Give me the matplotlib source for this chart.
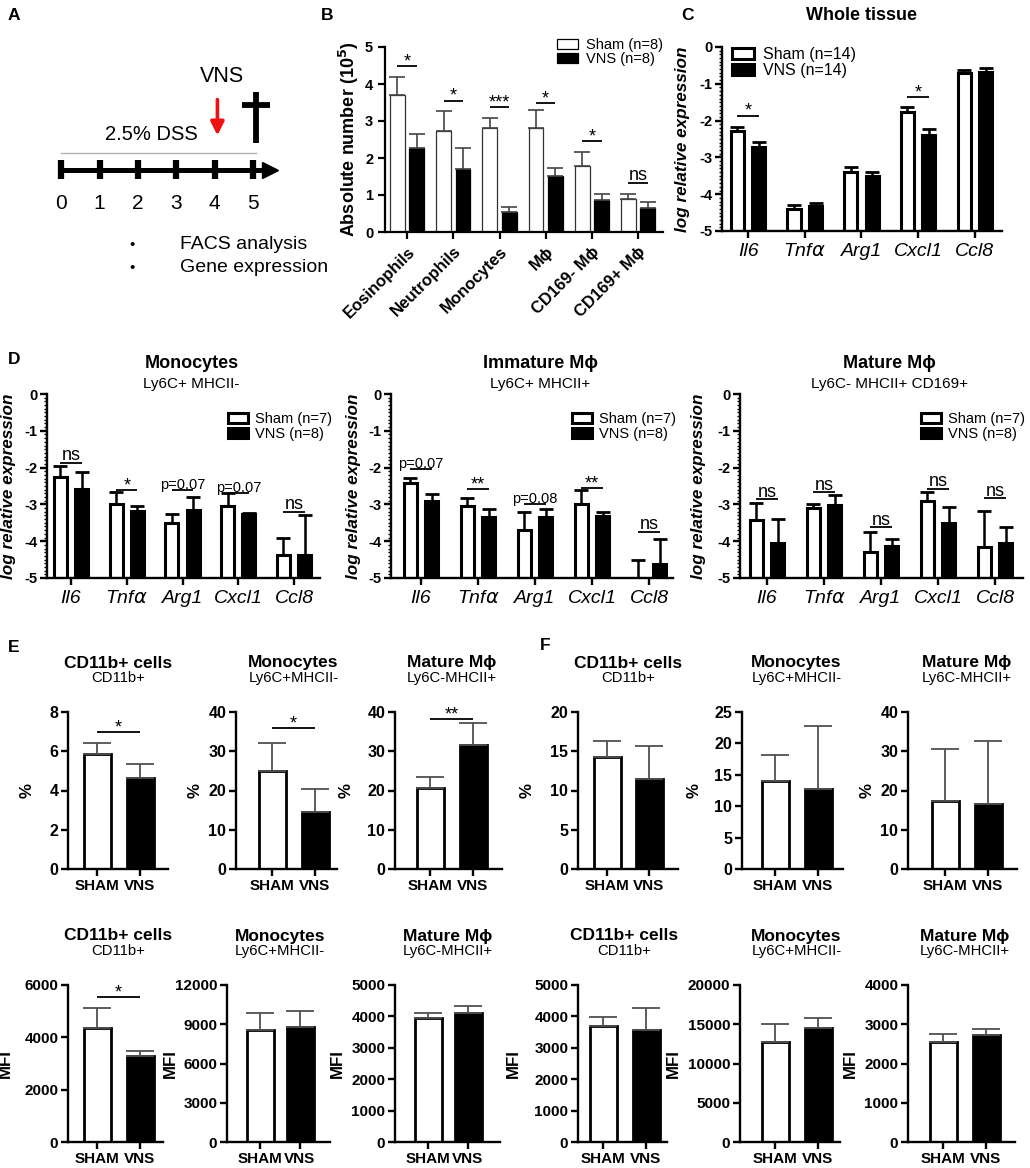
import matplotlib
matplotlib.use("Agg")
import matplotlib.pyplot as plt
import numpy as np
from matplotlib.patches import Patch
from matplotlib.ticker import MultipleLocator

plt.rcParams['font.family'] = ['Liberation Sans', 'DejaVu Sans']
plt.rcParams['mathtext.fontset'] = 'dejavusans'
plt.rcParams['axes.unicode_minus'] = False

W, H = 1030, 1168

# ---- data ----
# A: protocol timeline
days = [0, 1, 2, 3, 4, 5]
vns_day = 4
sac_day = 5
readouts = ['FACS analysis', 'Gene expression']

# B: absolute numbers (10^5)
b_cells = ['Eosinophils', 'Neutrophils', 'Monocytes', 'Mϕ', 'CD169- Mϕ', 'CD169+ Mϕ']
b_sham = [3.70, 2.73, 2.82, 2.80, 1.78, 0.88]
b_sham_top = [4.18, 3.28, 3.07, 3.30, 2.16, 1.03]
b_vns = [2.26, 1.70, 0.53, 1.52, 0.86, 0.66]
b_vns_top = [2.66, 2.26, 0.68, 1.73, 1.03, 0.80]
b_sig = [(0, 4.49, '*'), (1, 3.55, '*'), (2, 3.38, '***'), (3, 3.48, '*'), (4, 2.46, '*'), (5, 1.33, 'ns')]

genes = ['Il6', 'Tnf$\\alpha$', 'Arg1', 'Cxcl1', 'Ccl8']

# C: whole tissue
c_sham = [-2.28, -4.40, -3.39, -1.77, -0.71]
c_sham_top = [-2.17, -4.30, -3.27, -1.63, -0.63]
c_vns = [-2.71, -4.33, -3.50, -2.39, -0.67]
c_vns_top = [-2.57, -4.25, -3.39, -2.23, -0.58]
c_sig = [(0, -1.87, '*'), (3, -1.36, '*')]

# D: sorted populations
d1_sham = [-2.26, -2.99, -3.50, -3.04, -4.38]
d1_sham_top = [-1.96, -2.67, -3.26, -2.69, -3.91]
d1_vns = [-2.58, -3.18, -3.15, -3.26, -4.38]
d1_vns_top = [-2.12, -3.04, -2.80, -3.24, -3.29]
d1_sig = [(0, -1.87, 'ns'), (1, -2.61, '*'), (2, -2.61, 'p=0.07'), (3, -2.69, 'p=0.07'), (4, -3.20, 'ns')]

d2_sham = [-2.42, -3.04, -3.70, -2.99, -5.00]
d2_sham_top = [-2.28, -2.82, -3.22, -2.61, -4.51]
d2_vns = [-2.91, -3.33, -3.33, -3.32, -4.62]
d2_vns_top = [-2.72, -3.13, -3.13, -3.22, -3.94]
d2_sig = [(0, -2.04, 'p=0.07'), (1, -2.58, '**'), (2, -2.99, 'p=0.08'), (3, -2.55, '**'), (4, -3.75, 'ns')]

d3_sham = [-3.42, -3.10, -4.28, -2.91, -4.16]
d3_sham_top = [-2.97, -2.99, -3.75, -2.67, -3.18]
d3_vns = [-4.05, -3.02, -4.13, -3.50, -4.05]
d3_vns_top = [-3.40, -2.75, -3.94, -3.07, -3.62]
d3_sig = [(0, -2.86, 'ns'), (1, -2.67, 'ns'), (2, -3.62, 'ns'), (3, -2.58, 'ns'), (4, -2.83, 'ns')]

d_titles = ['Monocytes', 'Immature Mϕ', 'Mature Mϕ']
d_subtitles = ['Ly6C+ MHCII-', 'Ly6C+ MHCII+', 'Ly6C- MHCII+ CD169+']

# E / F: percentages and MFI
ef_titles = ['CD11b+ cells', 'Monocytes', 'Mature Mϕ']
ef_subtitles = ['CD11b+', 'Ly6C+MHCII-', 'Ly6C-MHCII+']
ef_groups = ['SHAM', 'VNS']

e_pct_sham = [5.86, 25.0, 20.6]
e_pct_sham_top = [6.42, 32.0, 23.4]
e_pct_vns = [4.64, 14.6, 31.6]
e_pct_vns_top = [5.35, 20.4, 37.2]
e_pct_sig = [(6.98, '*'), (35.9, '*'), (38.2, '**')]

f_pct_sham = [14.3, 14.0, 17.3]
f_pct_sham_top = [16.3, 18.2, 30.6]
f_pct_vns = [11.5, 12.7, 16.6]
f_pct_vns_top = [15.7, 22.8, 32.6]

e_mfi_sham = [4350, 8560, 3960]
e_mfi_sham_top = [5130, 9840, 4100]
e_mfi_vns = [3270, 8790, 4120]
e_mfi_vns_top = [3490, 10010, 4330]
e_mfi_sig = [(5540, '*'), None, None]

f_mfi_sham = [3700, 12780, 2540]
f_mfi_sham_top = [3970, 15030, 2750]
f_mfi_vns = [3570, 14480, 2720]
f_mfi_vns_top = [4280, 15750, 2880]

e_pct_ylim = [(8, 2), (40, 10), (40, 10)]
f_pct_ylim = [(20, 5), (25, 5), (40, 10)]
e_mfi_ylim = [(6000, 2000), (12000, 3000), (5000, 1000)]
f_mfi_ylim = [(5000, 1000), (20000, 5000), (4000, 1000)]


def px_axes(fig, left, top, right, bottom):
    return fig.add_axes([left / W, 1 - bottom / H, (right - left) / W, (bottom - top) / H])


def style_axes(ax, lw=1.6):
    for s in ['top', 'right']:
        ax.spines[s].set_visible(False)
    for s in ['left', 'bottom']:
        ax.spines[s].set_linewidth(lw)
    ax.tick_params(axis='both', which='major', length=5, width=lw, direction='out')


def sig_size(txt):
    if txt == 'ns':
        return 13
    if txt.startswith('p'):
        return 10.5
    return 13


def sig_mark(ax, x0, x1, y, txt, lw=1.3):
    ax.plot([x0, x1], [y, y], color='black', lw=lw, solid_capstyle='butt')
    if txt.startswith('p'):
        shift = -1.5
    elif txt == 'ns':
        shift = -1
    else:
        shift = -3
    ax.annotate(txt, ((x0 + x1) / 2, y), xytext=(0, shift), textcoords='offset points',
                ha='center', va='bottom', fontsize=sig_size(txt))


def gene_panel(ax, sham, sham_top, vns, vns_top, sig, off=0.19, w=0.23):
    base = -5
    x = np.arange(len(genes))
    sham, sham_top, vns, vns_top = map(np.asarray, (sham, sham_top, vns, vns_top))
    ax.bar(x - off, sham - base, width=w, bottom=base, color='white', edgecolor='black', lw=2.2, zorder=2)
    ax.bar(x + off, vns - base, width=w, bottom=base, color='black', edgecolor='black', lw=2.2, zorder=2)
    for xs, v, t in [(x - off, sham, sham_top), (x + off, vns, vns_top)]:
        ax.errorbar(xs, v, yerr=[np.zeros_like(v), t - v], fmt='none', ecolor='black',
                    elinewidth=1.8, capsize=5, capthick=2.0, zorder=3)
    for i, y, txt in sig:
        sig_mark(ax, i - off, i + off, y, txt)
    ax.set_ylim(-5, 0)
    ax.set_yticks([0, -1, -2, -3, -4, -5])
    ax.set_yticklabels(['0', '-1', '-2', '-3', '-4', '-5'], fontweight='bold', fontsize=10.5)
    ax.yaxis.set_minor_locator(MultipleLocator(0.1))
    ax.tick_params(axis='y', which='minor', length=2.5, width=1)
    ax.tick_params(axis='y', which='major', pad=2)
    ax.set_xticks(x)
    ax.set_xticklabels(genes, fontstyle='italic', fontsize=14)
    style_axes(ax, lw=1.7)
    ax.set_ylabel('log relative expression', fontweight='bold', fontstyle='italic', fontsize=12.3)


def legend_groups(ax, anchor, labels, fs=11, edge_lw=2.2, pad=0.55):
    handles = [Patch(facecolor='white', edgecolor='black', lw=edge_lw),
               Patch(facecolor='black', edgecolor='black', lw=edge_lw)]
    ax.legend(handles, labels, loc='upper left', bbox_to_anchor=anchor, frameon=False,
              fontsize=fs, handlelength=1.4, handleheight=0.7, labelspacing=0.05,
              handletextpad=pad, borderaxespad=0, borderpad=0)


def small_panel(ax, px_ticks, px_left, px_right, sham, sham_top, vns, vns_top, ylim, ylabel,
                label_px, sig=None, tick_fs=11.5):
    s = px_ticks[1] - px_ticks[0]
    w = 27 / s
    ax.bar(0, sham, width=w, color='white', edgecolor='black', lw=2.0, zorder=2)
    ax.bar(1, vns, width=w, color='black', edgecolor='black', lw=2.0, zorder=2)
    ax.errorbar([0, 1], [sham, vns], yerr=[[0, 0], [sham_top - sham, vns_top - vns]], fmt='none',
                ecolor='#505050', elinewidth=1.3, capsize=10, capthick=1.3, zorder=3)
    if sig is not None:
        sig_mark(ax, 0, 1, sig[0], sig[1])
    ax.set_xlim((px_left - px_ticks[0]) / s, (px_right - px_ticks[0]) / s)
    ax.set_ylim(0, ylim[0])
    ticks = np.arange(0, ylim[0] + 1e-9, ylim[1])
    ax.set_yticks(ticks)
    ax.set_yticklabels([f'{int(t)}' for t in ticks], fontweight='bold', fontsize=tick_fs)
    ax.set_xticks([0, 1])
    ax.set_xticklabels(ef_groups, fontweight='bold', fontsize=11)
    ax.tick_params(axis='x', pad=2)
    ax.tick_params(axis='y', pad=2)
    style_axes(ax, lw=1.7)
    ax.set_ylabel(ylabel, fontweight='bold', fontsize=12.2)
    ax.yaxis.set_label_coords((label_px - px_left) / (px_right - px_left), 0.5)


fig = plt.figure(figsize=(W / 100, H / 100), dpi=100)

# panel letters
for letter, (px, py) in {'A': (14, 15), 'B': (327, 15), 'C': (687, 15), 'D': (14, 360),
                         'E': (14, 647), 'F': (545, 646)}.items():
    fig.text(px / W, 1 - py / H, letter, fontweight='bold', fontsize=12.5, ha='center', va='center')

# ---- A ----
ax = px_axes(fig, 30, 60, 300, 290)
ax.set_xlim(-0.81, 6.22)
ax.set_ylim(0, 1)
ax.axis('off')
y_line = 0.522
ax.plot([days[0], days[-1] + 0.3], [y_line, y_line], color='black', lw=3.6, solid_capstyle='butt')
ax.plot(days[-1] + 0.45, y_line, marker='>', ms=12, color='black')
for d in days:
    ax.plot([d, d], [0.483, 0.565], color='black', lw=4.5, solid_capstyle='butt')
    ax.text(d, 0.374, str(d), ha='center', va='center', fontsize=15)
ax.plot([days[0], sac_day + 0.08], [0.596, 0.596], color='#b0b0b0', lw=1.0)
ax.text(2.34, 0.674, '2.5% DSS', ha='center', va='center', fontsize=14.5)
ax.annotate('', xy=(vns_day + 0.07, 0.66), xytext=(vns_day + 0.07, 0.84),
            arrowprops=dict(arrowstyle='-|>', color='#ee1111', lw=2.6, mutation_scale=20))
ax.text(vns_day + 0.18, 0.93, 'VNS', ha='center', va='center', fontsize=15.5)
ax.plot([sac_day + 0.08, sac_day + 0.08], [0.639, 0.861], color='black', lw=4.2, solid_capstyle='butt')
ax.plot([sac_day - 0.29, sac_day + 0.44], [0.804, 0.804], color='black', lw=4.2, solid_capstyle='butt')
for k, r in enumerate(readouts):
    yy = 0.196 - 0.1 * k
    ax.text(1.85, yy, '•', ha='center', va='center', fontsize=11)
    ax.text(3.1, yy, r, ha='left', va='center', fontsize=14)

# ---- B ----
ax = px_axes(fig, 385, 47, 663, 232)
xb = np.arange(len(b_cells))
b_sham, b_sham_top, b_vns, b_vns_top = map(np.asarray, (b_sham, b_sham_top, b_vns, b_vns_top))
ax.bar(xb - 0.21, b_sham, width=0.32, color='white', edgecolor='#333333', lw=0.9, zorder=2)
ax.bar(xb + 0.21, b_vns, width=0.32, color='black', edgecolor='black', lw=0.9, zorder=2)
for xs, v, t in [(xb - 0.21, b_sham, b_sham_top), (xb + 0.21, b_vns, b_vns_top)]:
    ax.errorbar(xs, v, yerr=[np.zeros_like(v), t - v], fmt='none', ecolor='#444444',
                elinewidth=1.2, capsize=6, capthick=1.2, zorder=3)
for i, y, txt in b_sig:
    sig_mark(ax, i - 0.21, i + 0.21, y, txt)
ax.set_xlim(-0.48, 5.54)
ax.set_ylim(0, 5)
ax.set_yticks(range(6))
ax.set_yticklabels([str(t) for t in range(6)], fontweight='bold', fontsize=10.5)
ax.set_xticks(xb)
ax.set_xticklabels(b_cells, rotation=45, ha='right', rotation_mode='anchor', fontweight='bold', fontsize=12)
style_axes(ax, lw=1.6)
ax.set_ylabel('Absolute number (10$^{\\mathbf{5}}$)', fontweight='bold', fontsize=13, labelpad=3)
legend_groups(ax, (0.62, 1.05), ['Sham (n=8)', 'VNS (n=8)'], fs=10.5, edge_lw=0.9)

# ---- C ----
ax = px_axes(fig, 722, 47, 1002, 231)
gene_panel(ax, c_sham, c_sham_top, c_vns, c_vns_top, c_sig)
ax.set_xlim(-0.46, 4.48)
ax.yaxis.set_label_coords((690 - 722) / 280, 0.5)
legend_groups(ax, (0.035, 1.0), ['Sham (n=14)', 'VNS (n=14)'], fs=11.5)
fig.text(862 / W, 1 - 15 / H, 'Whole tissue', fontweight='bold', fontsize=13, ha='center', va='center')

# ---- D ----
d_sets = [(d1_sham, d1_sham_top, d1_vns, d1_vns_top, d1_sig),
          (d2_sham, d2_sham_top, d2_vns, d2_vns_top, d2_sig),
          (d3_sham, d3_sham_top, d3_vns, d3_vns_top, d3_sig)]
d_px = [(47, 320, 71, 294, 16, 228), (391, 673, 421, 649, 361, 572), (740, 1023, 767, 995, 706, 921)]
for k, ((sh, sht, vn, vnt, sg), (l, r, t0, t4, ylx, lgx)) in enumerate(zip(d_sets, d_px)):
    ax = px_axes(fig, l, 394, r, 578)
    gene_panel(ax, sh, sht, vn, vnt, sg)
    s = (t4 - t0) / 4
    ax.set_xlim((l - t0) / s, (r - t0) / s)
    ax.yaxis.set_label_coords((ylx - l) / (r - l), 0.5)
    legend_groups(ax, ((lgx - l) / (r - l), 0.9), ['Sham (n=7)', 'VNS (n=8)'], fs=10.5, pad=0.45)
    cx = (l + r) / 2 + 8
    ax.text((cx - l) / (r - l), 1 + 31 / 184, d_titles[k], transform=ax.transAxes,
            fontweight='bold', fontsize=13, ha='center', va='center')
    ax.text((cx - l) / (r - l), 1 + 10 / 184, d_subtitles[k], transform=ax.transAxes,
            fontsize=11, ha='center', va='center')

# ---- E / F ----
# per panel: tick pixels, left px, right px, ylabel px
e_top_geom = [((97, 140), 68, 168, 35), ((272, 315), 236, 337, 203), ((430, 473), 395, 502, 354)]
f_top_geom = [((607, 649), 578, 678, 535), ((775, 818), 742, 843, 702), ((945, 988), 908, 1017, 875)]
e_bot_geom = [((97, 140), 68, 163, 13), ((260, 300), 227, 330, 178), ((428, 468), 395, 500, 345)]
f_bot_geom = [((603, 646), 578, 667, 521), ((775, 818), 740, 840, 681), ((943, 986), 908, 1015, 858)]

rows = [
    (712, 869, e_top_geom, (e_pct_sham, e_pct_sham_top, e_pct_vns, e_pct_vns_top, e_pct_ylim, '%', e_pct_sig), 11.5),
    (712, 869, f_top_geom, (f_pct_sham, f_pct_sham_top, f_pct_vns, f_pct_vns_top, f_pct_ylim, '%', None), 11.5),
    (985, 1142, e_bot_geom, (e_mfi_sham, e_mfi_sham_top, e_mfi_vns, e_mfi_vns_top, e_mfi_ylim, 'MFI', e_mfi_sig), 11),
    (985, 1142, f_bot_geom, (f_mfi_sham, f_mfi_sham_top, f_mfi_vns, f_mfi_vns_top, f_mfi_ylim, 'MFI', None), 11),
]
for top, bot, geom, (sh, sht, vn, vnt, ylims, ylab, sigs), tfs in rows:
    for j, (tks, ll, rr, lab_px) in enumerate(geom):
        ax = px_axes(fig, ll, top, rr, bot)
        sg = sigs[j] if sigs is not None else None
        small_panel(ax, tks, ll, rr, sh[j], sht[j], vn[j], vnt[j], ylims[j], ylab, lab_px, sg, tick_fs=tfs)
        cx = (tks[0] + tks[1]) / 2
        ax.text((cx - ll) / (rr - ll), 1 + 49 / 157, ef_titles[j], transform=ax.transAxes,
                fontweight='bold', fontsize=12.5, ha='center', va='center')
        ax.text((cx - ll) / (rr - ll), 1 + 34 / 157, ef_subtitles[j], transform=ax.transAxes,
                fontsize=10.7, ha='center', va='center')

fig.savefig('out.png', dpi=100)
